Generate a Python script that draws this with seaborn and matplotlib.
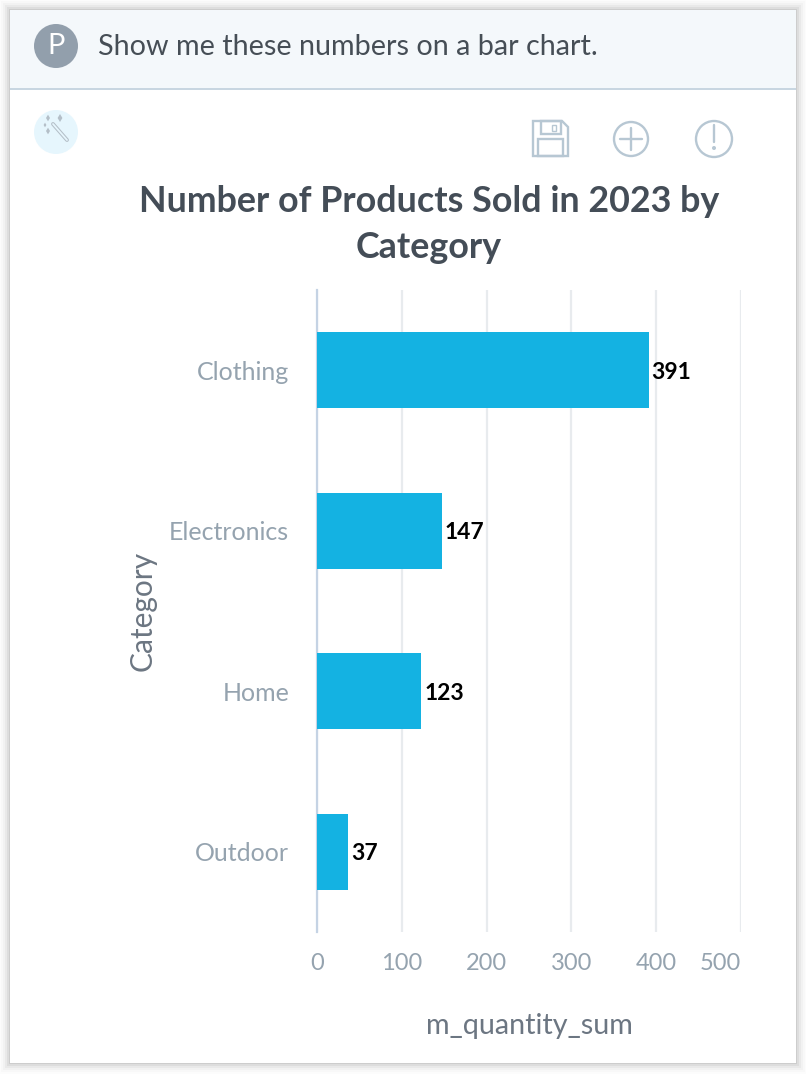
#!/usr/bin/env python3
import matplotlib
matplotlib.use('Agg')
import matplotlib.pyplot as plt
from matplotlib.patches import Circle, Polygon, Rectangle
import pandas as pd
import seaborn as sns

W, H = 806, 1074

categories = ['Clothing', 'Electronics', 'Home', 'Outdoor']
quantities = [391, 147, 123, 37]
x_ticks = [0, 100, 200, 300, 400, 500]

ICON = '#b7c7d3'
BAR = '#14b2e2'

sns.set_theme(style='white')
plt.rcParams['font.family'] = ['Lato', 'DejaVu Sans']


def px_rect(fig, left, top, right, bottom):
    """Axes position from pixel edges, measured from the top left."""
    return [left / W, 1 - bottom / H, (right - left) / W, (bottom - top) / H]


def draw_card(bg):
    """Card, shadow, header strip and the toolbar icons."""
    # Soft shadow around the card
    for grow, alpha in [(9, 0.015), (7, 0.025), (5, 0.035), (3, 0.05), (1, 0.07)]:
        bg.add_patch(Rectangle((10 - grow, 10 - grow), 786 + 2 * grow, 1053 + 2 * grow,
                               fc='black', ec='none', alpha=alpha))
    bg.add_patch(Rectangle((10, 10), 786, 1053, fc='white', ec='none'))
    bg.add_patch(Rectangle((10, 10), 786, 78, fc='#f4f8fb', ec='none'))
    bg.add_patch(Rectangle((10, 88), 786, 2, fc='#c8d6e1', ec='none'))

    # Header
    bg.add_patch(Circle((56, 46), 22, fc='#929fac', ec='none'))
    bg.text(56, 46, 'P', color='white', fontsize=21, ha='center', va='center')
    bg.text(98, 47, 'Show me these numbers on a bar chart.', color='#464e56',
            fontsize=20.7, ha='left', va='center')

    # Wand button
    bg.add_patch(Circle((56, 132), 22, fc='#e6f6fd', ec='none'))
    bg.plot([53, 67], [124, 140], color='#b4bfc8', lw=2.8, solid_capstyle='round')
    bg.plot([53, 67], [124, 140], color='#e6f6fd', lw=1.3, solid_capstyle='round')
    for sx, sy, size in [(48, 118, 5), (60, 118, 6), (45, 125, 3.5), (48, 131, 5)]:
        bg.add_patch(Polygon([(sx, sy - size / 1.5), (sx + size / 2.5, sy), (sx, sy + size / 1.5),
                              (sx - size / 2.5, sy)], fc='#b4bfc8', ec='none'))

    # Save icon
    lw = 1.7
    bg.add_patch(Polygon([(533, 121), (562, 121), (568, 127), (568, 156), (533, 156)],
                         fc='none', ec=ICON, lw=lw))
    bg.add_patch(Rectangle((541, 121), 20, 13, fc='none', ec=ICON, lw=lw))
    bg.add_patch(Rectangle((552, 125), 4, 6, fc='none', ec=ICON, lw=1.0))
    bg.add_patch(Rectangle((538, 139), 25, 17, fc='none', ec=ICON, lw=lw))

    # Add icon
    bg.add_patch(Circle((631, 139), 17, fc='none', ec=ICON, lw=lw))
    bg.plot([620, 642], [139, 139], color=ICON, lw=lw)
    bg.plot([631, 631], [128, 150], color=ICON, lw=lw)

    # Alert icon
    bg.add_patch(Circle((714, 139), 18, fc='none', ec=ICON, lw=lw))
    bg.plot([714, 714], [125, 142], color=ICON, lw=lw, solid_capstyle='round')
    bg.add_patch(Circle((714, 148), 2, fc=ICON, ec='none'))

    # Title
    bg.text(429, 202, 'Number of Products Sold in 2023 by', color='#444d57',
            fontsize=25.8, fontweight='bold', ha='center', va='center')
    bg.text(429, 248, 'Category', color='#444d57',
            fontsize=25.8, fontweight='bold', ha='center', va='center')


def main():
    df = pd.DataFrame({'Category': categories, 'm_quantity_sum': quantities})

    fig = plt.figure(figsize=(W / 100, H / 100), dpi=100, facecolor='#fcfcfc')

    bg = fig.add_axes([0, 0, 1, 1], zorder=0)
    bg.set_xlim(0, W)
    bg.set_ylim(H, 0)
    bg.axis('off')
    draw_card(bg)

    ax = fig.add_axes(px_rect(fig, 317, 290, 741, 932), zorder=1)
    ax.patch.set_alpha(0)
    sns.barplot(data=df, x='m_quantity_sum', y='Category', orient='h',
                color=BAR, saturation=1, width=0.475, linewidth=0, ax=ax, zorder=3)

    ax.set_xlim(0, 500)
    ax.set_xticks(x_ticks)
    ax.grid(axis='x', color='#e8ebee', lw=1.6, zorder=0)
    ax.grid(axis='y', visible=False)
    ax.set_axisbelow(True)

    sns.despine(ax=ax, top=True, right=True, bottom=True)
    ax.spines['left'].set_color('#c5d3e4')
    ax.spines['left'].set_linewidth(1.6)

    ax.tick_params(axis='both', length=0, labelcolor='#95a3af')
    ax.tick_params(axis='x', pad=15, labelsize=17)
    ax.tick_params(axis='y', pad=20, labelsize=18)
    ax.get_xticklabels()[-1].set_ha('right')

    labels = ax.bar_label(ax.containers[0], padding=2, color='black', fontsize=16.5,
                          fontweight='bold')
    for label in labels:
        label.xyann = (label.xyann[0], -1.5)

    ax.set_xlabel('m_quantity_sum', color='#6c7682', fontsize=20.7, labelpad=28)
    ax.set_ylabel('Category', color='#6c7682', fontsize=21.5)
    ax.yaxis.set_label_coords((157 - 317) / (741 - 317), 0.5)

    fig.savefig('out.png', dpi=100, facecolor=fig.get_facecolor())


if __name__ == '__main__':
    main()
